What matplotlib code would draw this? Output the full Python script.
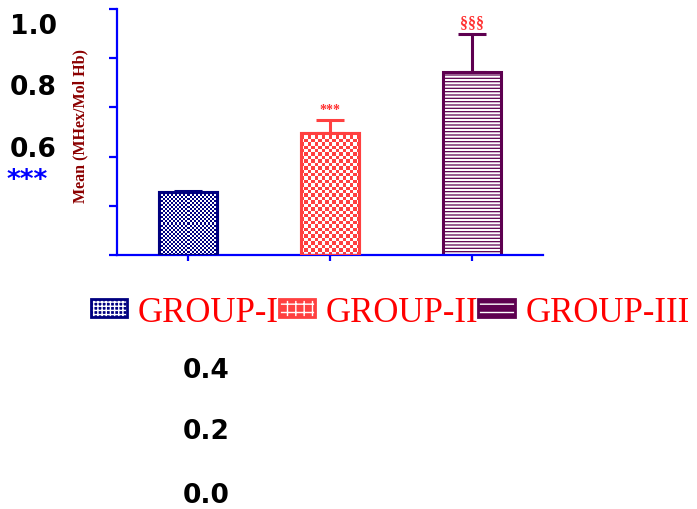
import matplotlib
matplotlib.use("Agg")
import matplotlib.pyplot as plt
import numpy as np
from matplotlib.patches import Patch
from matplotlib.legend_handler import HandlerTuple

# data
groups = ["GROUP-I", "GROUP-II", "GROUP-III"]
means = [0.255, 0.497, 0.744]
sems = [0.006, 0.052, 0.153]
marks = ["", "***", "§§§"]
yticks = [0.0, 0.2, 0.4, 0.6, 0.8, 1.0]

colors = ["#000080", "#FF4040", "#5E0050"]
# checker cell size in pixels (None -> use a hatch instead)
checker = [2.0, 3.4, None]
hatches = ["", "", "-----"]
leg_hatches = ["++++", "++", "--"]

fig = plt.figure(figsize=(6.97, 5.10), dpi=100)
ax = fig.add_axes([117 / 697, 1 - 256 / 510, 426 / 697, 246 / 510])
ax.set_xlim(-0.5, 2.5)
ax.set_ylim(0, 1.0)

bars = []
for i, (m, s, c) in enumerate(zip(means, sems, colors)):
    with plt.rc_context({"hatch.linewidth": 0.9}):
        b = ax.bar(i, m, width=0.415, color="white", edgecolor=c, hatch=hatches[i] or None,
                   linewidth=2.2, zorder=2)[0]
    bars.append(b)
    if checker[i]:
        # checkerboard texture clipped to the bar
        x0, y0 = b.get_x(), b.get_y()
        x1, y1 = x0 + b.get_width(), y0 + b.get_height()
        p0 = ax.transData.transform((x0, y0))
        p1 = ax.transData.transform((x1, y1))
        nx = max(1, int(round((p1[0] - p0[0]) / checker[i])))
        ny = max(1, int(round((p1[1] - p0[1]) / checker[i])))
        grid = (np.add.outer(np.arange(ny), np.arange(nx)) % 2).astype(float)
        cmap = matplotlib.colors.ListedColormap(["white", c])
        im = ax.imshow(grid, extent=(x0, x1, y0, y1), cmap=cmap, vmin=0, vmax=1,
                       interpolation="nearest", aspect="auto", zorder=2.5)
        im.set_clip_path(b)
        # edge on top of the texture
        ax.bar(i, m, width=0.415, color="none", edgecolor=c, linewidth=2.2, zorder=3)
    ax.errorbar(i, m, yerr=[[0], [s]], fmt="none", ecolor=c, elinewidth=2.2,
                capsize=10, capthick=2.2, zorder=1)
    if marks[i]:
        ax.text(i, m + s + 0.018, marks[i], ha="center", va="bottom", color="#FF3030",
                fontsize=10 if marks[i] == "***" else 11.5, fontweight="bold",
                family="Liberation Serif")

ax.set_xticks(range(len(groups)))
ax.set_xticklabels([])
ax.set_yticks(yticks)
ax.set_yticklabels([])
for side in ["top", "right"]:
    ax.spines[side].set_visible(False)
for side in ["left", "bottom"]:
    ax.spines[side].set_color("#0000FF")
    ax.spines[side].set_linewidth(1.6)
ax.tick_params(axis="y", colors="#0000FF", length=6, width=1.6, direction="out")
ax.tick_params(axis="x", colors="#0000FF", length=4.5, width=1.6, direction="out")

ax.set_ylabel("Mean (MHex/Mol Hb)", color="#8B0000", fontsize=11.5, fontweight="bold",
              family="Liberation Serif")
ax.yaxis.set_label_coords(-0.066, 0.53)

# tick labels are displaced in the reference
label_pos = {1.0: (57, 27), 0.8: (57, 88), 0.6: (57, 150),
             0.4: (230, 371), 0.2: (230, 432), 0.0: (230, 496)}
for v in yticks:
    x, y = label_pos[v]
    fig.text(x / 697, 1 - y / 510, f"{v:.1f}", ha="right", va="center",
             fontsize=19, fontweight="bold", family="DejaVu Sans")
fig.text(7 / 697, 1 - 181 / 510, "***", ha="left", va="center", color="#0000FF",
         fontsize=19, fontweight="bold", family="DejaVu Sans")

handles = []
for c, h in zip(colors, leg_hatches):
    with plt.rc_context({"hatch.linewidth": 1.6}):
        inner = Patch(facecolor=c, edgecolor="white", hatch=h, linewidth=0)
    outer = Patch(facecolor="none", edgecolor=c, linewidth=2)
    handles.append((inner, outer))

leg = fig.legend(handles=handles, labels=groups, loc="center left",
                 bbox_to_anchor=(91 / 697, 1 - 313 / 510), ncol=3, frameon=False,
                 prop={"family": "Liberation Serif", "size": 25},
                 handler_map={tuple: HandlerTuple(ndivide=1, pad=0)},
                 handlelength=1.05, handleheight=0.4, handletextpad=0.3,
                 columnspacing=0.0, borderpad=0, borderaxespad=0)
for t in leg.get_texts():
    t.set_color("#FF0000")

fig.savefig("out.png", dpi=100)
